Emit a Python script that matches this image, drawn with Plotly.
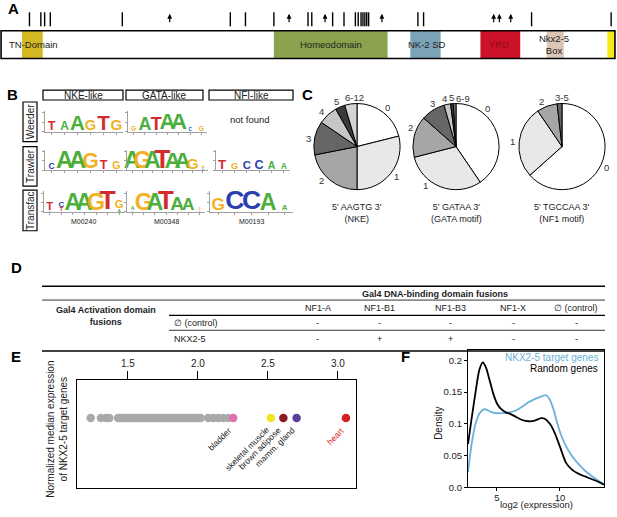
import math
import plotly.graph_objects as go

W, H = 617, 517


def fx(p):
    return p / W


def fy(p):
    return 1 - p / H


FONT = "Liberation Sans, Arial, Helvetica, sans-serif"
LOGO_FONT = "Liberation Sans Narrow, Liberation Sans, Arial, sans-serif"
TXT = "#222222"

# ---------------- Panel A: NKX2-5 protein (amino-acid positions) ----------------
protein_length = 324
domain_names = ["TN-Domain", "Homeodomain", "NK-2 SD", "YRD", "Nkx2-5<br>Box", ""]
domain_start = [11, 144, 216, 253, 288, 320]
domain_end = [22, 204, 232, 274, 297, 324]
domain_label_pos = [17, 174, 225, 263, 292, 322]
domain_colors = ["#d3b723", "#8ba24c", "#7ba3b7", "#cc1128", "#dcc5b6", "#f7e81a"]
domain_text_colors = [TXT, TXT, TXT, "#8e0d1c", TXT, TXT]
mutation_ticks = [15, 21, 23, 26, 64, 121, 129, 144, 162, 164, 175, 181,
                  187, 188.5, 190, 191, 192, 193, 194, 220, 223, 280, 322]
mutation_arrows = [89, 152, 171, 201, 260, 263, 269]

# ---------------- Panel B: motif logos (letter, bits) ----------------
logo_rows = ["Weeder", "Trawler", "Transfac"]
logo_cols = ["NKE-like", "GATA-like", "NFI-like"]
transfac_ids = ["M00240", "M00348", "M00193"]
weeder_nke = [[("T", .95)], [("A", .9)], [("A", 1.55)], [("G", 1.1)], [("T", 1.55)], [("G", 1.15)]]
weeder_gata = [[("G", .5)], [("A", 1.35)], [("T", 1.35)], [("A", 1.65)], [("A", 1.7)],
               [("C", .35)], [("G", .5)]]
trawler_nke = [[("C", .65)], [("A", 1.8)], [("A", 1.8)], [("G", 1.6)], [("T", .95)], [("G", .8)]]
trawler_gata = [[("A", 1.75)], [("G", 1.75)], [("A", 1.75)], [("T", 1.95)], [("A", 1.7)],
                [("A", 1.7)], [("G", 1.15)], [("C", .2), ("G", .25)]]
trawler_nfi = [[("T", 1.0)], [("G", .7)], [("C", .85)], [("C", .95)], [("A", .8)], [("A", .65)]]
transfac_nke = [[("C", .12), ("T", .85)], [("T", .45), ("C", .6)], [("A", 1.75)], [("A", 1.75)],
                [("G", 1.75)], [("T", 2.0)], [("A", .3), ("G", .85)]]
transfac_gata = [[("T", .12), ("A", .4)], [("G", 1.75)], [("A", 1.75)], [("T", 1.95)],
                 [("A", 1.45)], [("A", 1.3)], [("C", .12), ("G", .25)]]
transfac_nfi = [[("G", 1.3)], [("C", 2.0)], [("C", 2.0)], [("A", 1.75)], [("G", .1), ("A", .6)]]
letter_colors = {"A": "#4caf3d", "C": "#2b3fae", "G": "#f2b11f", "T": "#d42b2b"}

# ---------------- Panel C: motif counts per gene (% of genes) ----------------
nke_labels = ["0", "1", "2", "3", "4", "5", "6-12"]
nke_values = [21.1, 28.9, 21.9, 12.6, 7.3, 3.6, 4.6]
gata_labels = ["0", "1", "2", "3", "4", "5", "6-9"]
gata_values = [40.5, 30.5, 15.5, 9.0, 2.5, 1.0, 1.0]
nf1_labels = ["0", "1", "2", "3-5"]
nf1_values = [63.4, 27.1, 7.7, 1.8]
pie_titles = ["5' AAGTG 3'<br>(NKE)", "5' GATAA 3'<br>(GATA motif)", "5' TGCCAA 3'<br>(NF1 motif)"]
pie_colors = ["#ffffff", "#e8e8e8", "#a6a6a6", "#666666", "#c6c6c6", "#3a3a3a", "#d4d4d4"]
pie_colors_gata = ["#ffffff", "#e8e8e8", "#a6a6a6", "#666666", "#c6c6c6", "#3a3a3a", "#7a7a7a"]
# label placement (degrees clockwise from 12 o'clock) - layout only
pie_label_angles = [[38, 127, 226, 279, 315, 336, 357],
                    [39, 218, 293, 331, 347, 355, 8],
                    [115, 276, 336, 0]]

# ---------------- Panel D: yeast two-hybrid table ----------------
dbd_header = "Gal4 DNA-binding domain fusions"
ad_header = "Gal4 Activation domain<br>fusions"
dbd_cols = ["NF1-A", "NF1-B1", "NF1-B3", "NF1-X", "∅ (control)"]
ad_rows = ["∅ (control)", "NKX2-5"]
y2h_results = [["-", "-", "-", "-", "-"],
               ["-", "+", "+", "-", "-"]]

# ---------------- Panel E: tissue expression ----------------
other_tissues = [1.234, 1.307, 1.343, 1.367, 1.43, 1.445, 1.46, 1.48, 1.5, 1.515, 1.535,
                 1.555, 1.57, 1.59, 1.61, 1.63, 1.645, 1.665, 1.685, 1.70, 1.72, 1.74,
                 1.76, 1.775, 1.795, 1.815, 1.835, 1.85, 1.87, 1.89, 1.91, 1.93, 1.945,
                 1.965, 1.985, 2.005, 2.02, 2.074, 2.11, 2.145, 2.18, 2.216]
named_tissues = ["bladder", "skeletal muscle", "brown adipose", "mamm. gland", "heart"]
named_values = [2.252, 2.52, 2.61, 2.705, 3.057]
named_colors = ["#e070b2", "#f0e224", "#8c1c22", "#5a3f9c", "#d42222"]
e_ticks = [1.5, 2.0, 2.5, 3.0]

# ---------------- Panel F: density ----------------
dens_x_target = [2.7, 3.0, 3.3, 3.6, 4.0, 4.3, 4.6, 5.0, 5.5, 6.0, 6.5, 7.0, 7.5, 8.0,
                 8.5, 8.9, 9.2, 9.5, 9.8, 10.1, 10.5, 11.0, 11.5, 12.0, 12.5, 13.0, 13.5]
dens_y_target = [0.024, 0.07, 0.1, 0.116, 0.123, 0.121, 0.118, 0.117, 0.117, 0.118, 0.121,
                 0.127, 0.134, 0.139, 0.143, 0.145, 0.138, 0.122, 0.1, 0.082, 0.064, 0.048,
                 0.036, 0.026, 0.018, 0.011, 0.005]
dens_x_random = [2.7, 3.0, 3.3, 3.6, 3.87, 4.1, 4.4, 4.7, 5.0, 5.3, 5.7, 6.0, 6.5, 7.0, 7.5,
                 8.0, 8.5, 8.8, 9.2, 9.6, 10.0, 10.5, 11.0, 11.5, 12.0, 12.5, 13.0, 13.5]
dens_y_random = [0.068, 0.11, 0.15, 0.185, 0.197, 0.19, 0.17, 0.148, 0.132, 0.124, 0.118,
                 0.116, 0.111, 0.106, 0.104, 0.105, 0.109, 0.108, 0.1, 0.085, 0.064, 0.038,
                 0.027, 0.021, 0.017, 0.013, 0.009, 0.004]
f_yticks = [0, 0.05, 0.1, 0.15, 0.2]
f_yticktext = ["0.0", "0.05", "0.1", "0.15", "0.2"]
f_xticks = [5, 10]

# =====================================================================
fig = go.Figure()
layout = dict(width=W, height=H, autosize=False, margin=dict(l=0, r=0, t=0, b=0),
              paper_bgcolor="white", plot_bgcolor="rgba(0,0,0,0)", showlegend=False,
              font=dict(family=FONT, color=TXT, size=10))
annotations = []
shapes = []


def ann(text, x, y, size=10, color=TXT, xanchor="center", yanchor="middle", angle=0):
    annotations.append(dict(text=text, x=fx(x), y=fy(y), xref="paper", yref="paper",
                            showarrow=False, font=dict(size=size, color=color, family=FONT),
                            xanchor=xanchor, yanchor=yanchor, textangle=angle))


def box(x0, y0, x1, y1, width=1.2):
    shapes.append(dict(type="rect", xref="paper", yref="paper", x0=fx(x0), x1=fx(x1),
                       y0=fy(y1), y1=fy(y0), line=dict(color="black", width=width),
                       fillcolor="rgba(0,0,0,0)"))


def hline(x0, x1, y, width=1.0):
    shapes.append(dict(type="line", xref="paper", yref="paper", x0=fx(x0), x1=fx(x1),
                       y0=fy(y), y1=fy(y), line=dict(color="black", width=width)))


# panel letters
for lab, x, y in [("A", 13, 9), ("B", 12, 95), ("C", 307, 95), ("D", 16, 270),
                  ("E", 16, 360), ("F", 405, 360)]:
    ann("<b>%s</b>" % lab, x, y, size=15, color="black")

# ---------------- Panel A ----------------
aa_px0, aa_px1 = 1.0, 615.0
ppa = (aa_px1 - aa_px0) / protein_length
layout["xaxis"] = dict(domain=[fx(aa_px0 - 0.5 * ppa + 0.05), fx(aa_px1 + 0.5 * ppa - 0.05)],
                       range=[-0.5, protein_length + 0.5], visible=False, anchor="y")
layout["yaxis"] = dict(domain=[fy(25), fy(14)], range=[0, 1], visible=False, anchor="x")
fig.add_trace(go.Scatter(x=mutation_ticks, y=[0.5] * len(mutation_ticks), mode="markers",
                         marker=dict(symbol="line-ns", size=10, color="black",
                                     line=dict(color="black", width=1.4)),
                         xaxis="x", yaxis="y", hoverinfo="skip", cliponaxis=False))
for a in mutation_arrows:
    annotations.append(dict(x=a, y=1, xref="x", yref="y", text="", showarrow=True,
                            ax=0, ay=10, arrowhead=2, arrowsize=0.8, arrowwidth=1.2,
                            arrowcolor="black"))
box_top, box_bot = 31, 59
for s, e, c in zip(domain_start, domain_end, domain_colors):
    shapes.append(dict(type="rect", xref="x", yref="paper", x0=s, x1=e, y0=fy(box_bot),
                       y1=fy(box_top), fillcolor=c, line=dict(width=0), layer="below"))
for name, lp, tc in zip(domain_names, domain_label_pos, domain_text_colors):
    if name:
        annotations.append(dict(text=name, x=lp, y=fy(45), xref="x", yref="paper",
                                showarrow=False, font=dict(size=9.5, color=tc, family=FONT),
                                xanchor="center", yanchor="middle"))
shapes.append(dict(type="rect", xref="x", yref="paper", x0=0, x1=protein_length,
                   y0=fy(box_bot), y1=fy(box_top), line=dict(color="black", width=1.6),
                   fillcolor="rgba(0,0,0,0)"))

# ---------------- Panel B ----------------
head_x = [(43, 123), (126, 203), (209, 293)]
for (x0, x1), t in zip(head_x, logo_cols):
    box(x0, 91, x1, 101)
    ann(t, (x0 + x1) / 2, 96.5, size=10)
row_y = [(103, 143), (148, 188), (192, 233)]
for (y0, y1), t in zip(row_y, logo_rows):
    box(23, y0, 37, y1)
    ann(t, 30.5, (y0 + y1) / 2, size=10, angle=-90)
ann("not found", 250, 121, size=9.5)
for t, x in zip(transfac_ids, [84, 166, 251]):
    ann(t, x, 224, size=7)

PPB = 9.5  # pixels per bit
YMAX = 2.2
logo_panels = [
    (weeder_nke, 45, 123, 133), (weeder_gata, 128, 207, 133),
    (trawler_nke, 45, 123, 172), (trawler_gata, 127, 208, 172), (trawler_nfi, 216, 290, 172),
    (transfac_nke, 44, 125, 214), (transfac_gata, 127, 205, 214), (transfac_nfi, 210, 293, 214),
]
k = 2
for cols, x0, x1, base in logo_panels:
    n = len(cols)
    xs, ys, ts, sz, cl = [], [], [], [], []
    for i, stack in enumerate(cols):
        b = 0.0
        for letter, h in stack:
            xs.append(i + 1)
            ys.append(b + h / 2)
            ts.append(letter)
            sz.append(max(h * PPB / 0.716, 1))
            cl.append(letter_colors[letter])
            b += h
    fig.add_trace(go.Scatter(x=xs, y=ys, text=ts, mode="text", textposition="middle center",
                             textfont=dict(size=sz, color=cl, family=LOGO_FONT, weight="bold"),
                             xaxis="x%d" % k, yaxis="y%d" % k, hoverinfo="skip",
                             cliponaxis=False))
    layout["xaxis%d" % k] = dict(domain=[fx(x0), fx(x1)], range=[0.5, n + 0.5],
                                 anchor="y%d" % k, showgrid=False, zeroline=False,
                                 showticklabels=False, showline=True, linecolor="#a0a0a0",
                                 linewidth=0.7, ticks="outside", ticklen=2, tickwidth=0.7,
                                 tickcolor="#a0a0a0", tickvals=list(range(1, n + 1)))
    layout["yaxis%d" % k] = dict(domain=[fy(base), fy(base - YMAX * PPB)], range=[0, YMAX],
                                 anchor="x%d" % k, showgrid=False, zeroline=False,
                                 showticklabels=False, showline=True, linecolor="#a0a0a0",
                                 linewidth=0.7, ticks="outside", ticklen=2, tickwidth=0.7,
                                 tickcolor="#a0a0a0", tickvals=[0, 1, 2])
    k += 1

# ---------------- Panel C ----------------
R = 43.5
LABEL_R = 49.5
pie_centers = [(357, 148), (456, 148), (562, 148)]
for (cx, cy), labels, values, cols, title, angs in zip(
        pie_centers, [nke_labels, gata_labels, nf1_labels],
        [nke_values, gata_values, nf1_values],
        [pie_colors, pie_colors_gata, pie_colors[:4]], pie_titles, pie_label_angles):
    fig.add_trace(go.Pie(labels=labels, values=values, sort=False, direction="clockwise",
                         rotation=0, textinfo="none",
                         marker=dict(colors=cols, line=dict(color="black", width=1)),
                         domain=dict(x=[fx(cx - R), fx(cx + R)], y=[fy(cy + R), fy(cy - R)]),
                         hoverinfo="skip", showlegend=False))
    for lab, a in zip(labels, angs):
        t = math.radians(a)
        ann(lab, cx + LABEL_R * math.sin(t), cy - LABEL_R * math.cos(t), size=9.5,
            color="#333333")
    ann(title, cx, 215, size=9)

# ---------------- Panel D ----------------
hline(42, 605, 289, 1.6)
hline(42, 605, 303, 0.8)
hline(169, 605, 318.5, 1.2)
hline(169, 605, 333.5, 0.8)
hline(42, 605, 354.5, 1.6)
ann("<b>%s</b>" % dbd_header, 435, 296.5, size=9)
ann("<b>%s</b>" % ad_header, 106, 319.5, size=9)
col_x = [318, 379, 451, 513, 576]
row_y_d = [326.5, 342]
for t, x in zip(dbd_cols, col_x):
    ann(t, x, 311.5, size=9)
for r, (lab, y) in enumerate(zip(ad_rows, row_y_d)):
    ann(lab, 172, y, size=9, xanchor="left")
    for c, x in enumerate(col_x):
        ann(y2h_results[r][c], x, y, size=9)

# ---------------- Panel E ----------------
layout["xaxis10"] = dict(domain=[fx(77), fx(356)], range=[1.136, 3.129], anchor="y10",
                         side="top", showgrid=False, zeroline=False, showline=True,
                         mirror=True, linecolor="black", linewidth=1.2, ticks="outside",
                         ticklen=8, tickwidth=1, tickcolor="black", tickvals=e_ticks,
                         ticktext=["%.1f" % v for v in e_ticks],
                         tickfont=dict(size=10, color=TXT, family=FONT))
layout["yaxis10"] = dict(domain=[fy(493), fy(384)], range=[0, 1], anchor="x10",
                         showgrid=False, zeroline=False, showline=True, mirror=True,
                         linecolor="black", linewidth=1.2, showticklabels=False, ticks="")
fig.add_trace(go.Scatter(x=other_tissues, y=[0.65] * len(other_tissues), mode="markers",
                         marker=dict(size=8.5, color="#a9a9a9", line=dict(width=0)),
                         xaxis="x10", yaxis="y10", hoverinfo="skip"))
fig.add_trace(go.Scatter(x=named_values, y=[0.65] * len(named_values), mode="markers",
                         marker=dict(size=8.5, color=named_colors, line=dict(width=0)),
                         xaxis="x10", yaxis="y10", hoverinfo="skip"))
for t, v in zip(named_tissues, named_values):
    annotations.append(dict(text=t, x=v, y=0.65, xref="x10", yref="y10", showarrow=False,
                            textangle=-45, xanchor="right", yanchor="top", xshift=3, yshift=-4,
                            font=dict(size=8.5, family=FONT,
                                      color="#d42222" if t == "heart" else TXT)))
ann("Normalized median expression<br>of NKX2-5 target genes", 57, 434, size=10, angle=-90)

# ---------------- Panel F ----------------
layout["xaxis11"] = dict(domain=[fx(468), fx(604)], range=[2.7, 13.5], anchor="y11",
                         showgrid=False, zeroline=False, showline=True, mirror=True,
                         linecolor="black", linewidth=1.2, ticks="outside", ticklen=3,
                         tickcolor="black", tickvals=f_xticks, ticklabelstandoff=-2,
                         tickfont=dict(size=9.5, color=TXT, family=FONT))
layout["yaxis11"] = dict(domain=[fy(492), fy(353)], range=[0, 0.217], anchor="x11",
                         showgrid=False, zeroline=False, showline=True, mirror=True,
                         linecolor="black", linewidth=1.2, ticks="outside", ticklen=3,
                         tickcolor="black", tickvals=f_yticks, ticktext=f_yticktext,
                         tickfont=dict(size=9.5, color=TXT, family=FONT))
fig.add_trace(go.Scatter(x=dens_x_target, y=dens_y_target, mode="lines",
                         line=dict(color="#6cb0da", width=1.8, shape="spline", smoothing=0.8),
                         xaxis="x11", yaxis="y11", hoverinfo="skip"))
fig.add_trace(go.Scatter(x=dens_x_random, y=dens_y_random, mode="lines",
                         line=dict(color="black", width=1.8, shape="spline", smoothing=0.8),
                         xaxis="x11", yaxis="y11", hoverinfo="skip"))
ann("NKX2-5 target genes", 600, 361, size=10, color="#6cb0da", xanchor="right")
ann("Random genes", 600, 372, size=10, color="black", xanchor="right")
ann("log2 (expression)", 536, 517, size=9.5, yanchor="bottom")
ann("Density", 439, 427, size=10, angle=-90)

layout["annotations"] = annotations
layout["shapes"] = shapes
fig.update_layout(**layout)
# remove the browser's default 8px body margin so the 617x517 figure fills the window
fig.write_html("out.html", config={"displayModeBar": False, "staticPlot": False},
               post_script="document.body.style.margin='0px';"
                           "document.body.style.overflow='hidden';")
